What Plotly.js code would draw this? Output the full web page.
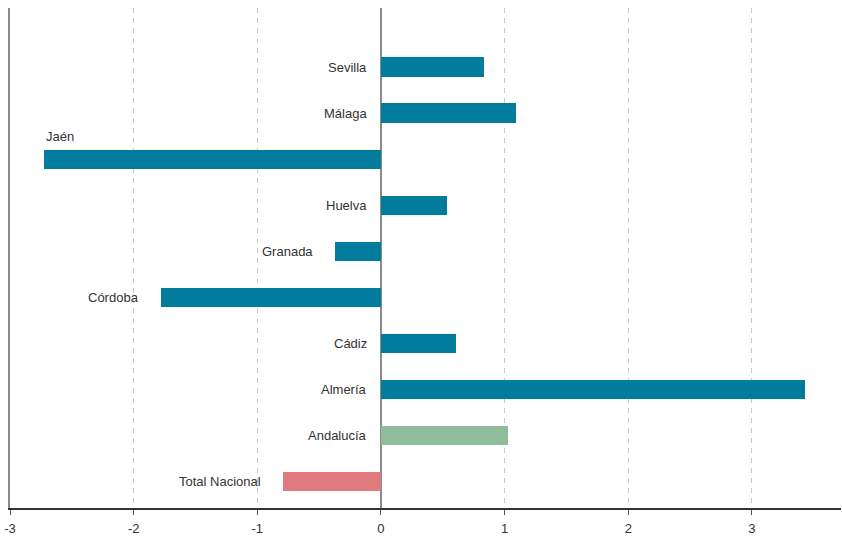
<!DOCTYPE html>
<html>
<head>
<meta charset="utf-8">
<script src="https://cdn.plot.ly/plotly-3.0.1.min.js"></script>
<style>
html,body{margin:0;padding:0;background:#fff;}
#chart{width:842px;height:538px;}
</style>
</head>
<body>
<div id="chart"></div>
<script>
// Data (top to bottom)
const categories = ["Sevilla","Málaga","Jaén","Huelva","Granada","Córdoba","Cádiz","Almería","Andalucía","Total Nacional"];
const values = [0.83, 1.09, -2.725, 0.53, -0.37, -1.78, 0.61, 3.43, 1.025, -0.79];
const groups = ["prov","prov","prov","prov","prov","prov","prov","prov","region","nation"];
const tickValues = [-3,-2,-1,0,1,2,3];
const tickLabels = ["-3","-2","-1","0","1","2","3"];

const groupColors = {prov:"#017c9d", region:"#8fbd9c", nation:"#df7b7e"};

const trace = {
  type: "bar",
  orientation: "h",
  y: categories,
  x: values,
  width: 0.42,
  marker: {color: groups.map(g => groupColors[g]), line: {width: 0}},
  hoverinfo: "x+y"
};

const xmin = -3, xmax = 3.72;
const plotW = 842 - 10 - 1;
const pxPerUnit = plotW / (xmax - xmin);

const annotations = categories.map((c, i) => {
  const v = values[i];
  const anchorX = Math.min(v, 0);
  const textW = c.length * 7;
  const room = (anchorX - xmin) * pxPerUnit;
  const base = {
    y: c, yref: "y", xref: "x", showarrow: false, text: c,
    font: {family: "Liberation Sans, Arial, sans-serif", size: 13, color: "#333"}
  };
  if (room < textW + 14) {
    return Object.assign(base, {x: v, xanchor: "left", yanchor: "middle", yshift: 23, xshift: 0});
  }
  return Object.assign(base, {x: anchorX, xanchor: "right", yanchor: "middle", xshift: v < 0 ? -20 : -12});
});

const layout = {
  width: 842, height: 538,
  margin: {l: 10, r: 1, t: 8, b: 30, pad: 0},
  paper_bgcolor: "#fff", plot_bgcolor: "#fff",
  showlegend: false,
  bargap: 0,
  font: {family: "Liberation Sans, Arial, sans-serif", size: 13, color: "#333"},
  xaxis: {
    range: [xmin, xmax],
    tickvals: tickValues, ticktext: tickLabels,
    showgrid: true, gridcolor: "#c8c8c8", gridwidth: 1, griddash: "5px,5px",
    zeroline: true, zerolinecolor: "#8a8a8a", zerolinewidth: 2,
    showline: true, linecolor: "#333", linewidth: 1.5,
    ticks: "outside", ticklen: 5, tickcolor: "#555", tickwidth: 1,
    ticklabelstandoff: 3,
    tickfont: {size: 13, color: "#333"},
    fixedrange: true
  },
  yaxis: {
    type: "category",
    categoryorder: "array", categoryarray: categories,
    range: [9.576, -1.283],
    showticklabels: false, ticks: "",
    showgrid: false, zeroline: false,
    showline: true, linecolor: "#8a8a8a", linewidth: 2,
    fixedrange: true
  },
  annotations: annotations
};

Plotly.newPlot("chart", [trace], layout, {displayModeBar: false, staticPlot: true});
</script>
</body>
</html>
